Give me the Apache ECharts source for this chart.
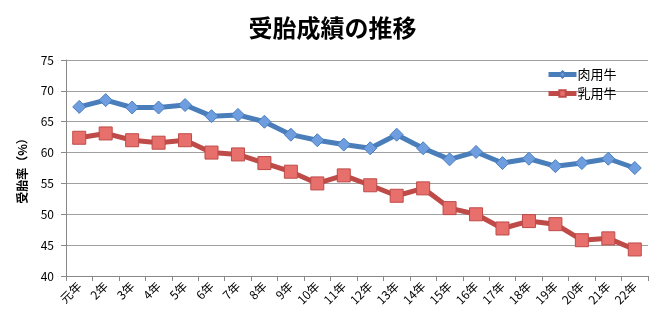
<!DOCTYPE html>
<html>
<head>
<meta charset="utf-8">
<script src="https://cdn.jsdelivr.net/npm/echarts@6/dist/echarts.min.js"></script>
<style>
  html, body { margin: 0; padding: 0; background: #fff; }
  #chart { width: 665px; height: 327px; }
</style>
</head>
<body>
<div id="chart"></div>
<script>
// 年度（平成）
const years = ['元年','2年','3年','4年','5年','6年','7年','8年','9年','10年','11年',
  '12年','13年','14年','15年','16年','17年','18年','19年','20年','21年','22年'];

// 受胎率（%）
const beefCattle = [67.4, 68.5, 67.3, 67.3, 67.7, 65.9, 66.1, 65.0, 62.9, 62.0, 61.3,
  60.7, 62.9, 60.7, 58.9, 60.1, 58.3, 59.0, 57.8, 58.3, 59.0, 57.5];
const dairyCattle = [62.4, 63.1, 62.0, 61.6, 62.0, 60.0, 59.7, 58.3, 56.9, 55.0, 56.3,
  54.7, 53.0, 54.2, 51.0, 50.0, 47.7, 48.9, 48.4, 45.8, 46.1, 44.3];

const yTicks = { min: 40, max: 75, interval: 5 };

const font = '"Noto Sans CJK JP", "Noto Sans", sans-serif';

const chart = echarts.init(document.getElementById('chart'), null, { renderer: 'canvas' });
chart.setOption({
  animation: false,
  backgroundColor: '#ffffff',
  title: {
    text: '受胎成績の推移',
    left: 'center',
    top: 11,
    textStyle: { fontFamily: font, fontSize: 24, fontWeight: 'bold', color: '#000' }
  },
  legend: {
    orient: 'vertical',
    left: 541,
    top: 63,
    itemGap: 6,
    itemWidth: 28,
    itemHeight: 8,
    lineStyle: { width: 5 },
    textStyle: { fontFamily: font, fontSize: 13, color: '#000', padding: [0, 0, 0, -4] },
    data: ['肉用牛', '乳用牛']
  },
  grid: { left: 66, right: 17, top: 60, bottom: 51 },
  xAxis: {
    type: 'category',
    data: years,
    boundaryGap: true,
    axisLine: { lineStyle: { color: '#888', width: 1 } },
    axisTick: { show: true, alignWithLabel: false, length: 5, lineStyle: { color: '#888' } },
    axisLabel: { rotate: 45, interval: 0, fontFamily: font, fontSize: 12, color: '#000', margin: 8 }
  },
  yAxis: {
    type: 'value',
    min: yTicks.min,
    max: yTicks.max,
    interval: yTicks.interval,
    name: '受胎率（%）',
    nameLocation: 'middle',
    nameGap: 38,
    nameRotate: 90,
    nameTextStyle: { fontFamily: font, fontSize: 12, fontWeight: 'bold', color: '#000' },
    axisLine: { show: true, lineStyle: { color: '#888' } },
    axisTick: { show: true, length: 5, lineStyle: { color: '#888' } },
    axisLabel: { fontFamily: font, fontSize: 12, color: '#000', margin: 12 },
    splitLine: { lineStyle: { color: '#a0a0a0', width: 1 } }
  },
  series: [
    {
      name: '肉用牛',
      type: 'line',
      data: beefCattle,
      symbol: 'diamond',
      symbolSize: 13,
      lineStyle: { color: '#4A7EBB', width: 5 },
      itemStyle: { color: '#6f9ee0', borderColor: '#4A7EBB', borderWidth: 1 }
    },
    {
      name: '乳用牛',
      type: 'line',
      data: dairyCattle,
      symbol: 'rect',
      symbolSize: 13,
      lineStyle: { color: '#BE4B48', width: 5 },
      itemStyle: { color: '#e8706c', borderColor: '#BE4B48', borderWidth: 1 }
    }
  ]
});
</script>
</body>
</html>
